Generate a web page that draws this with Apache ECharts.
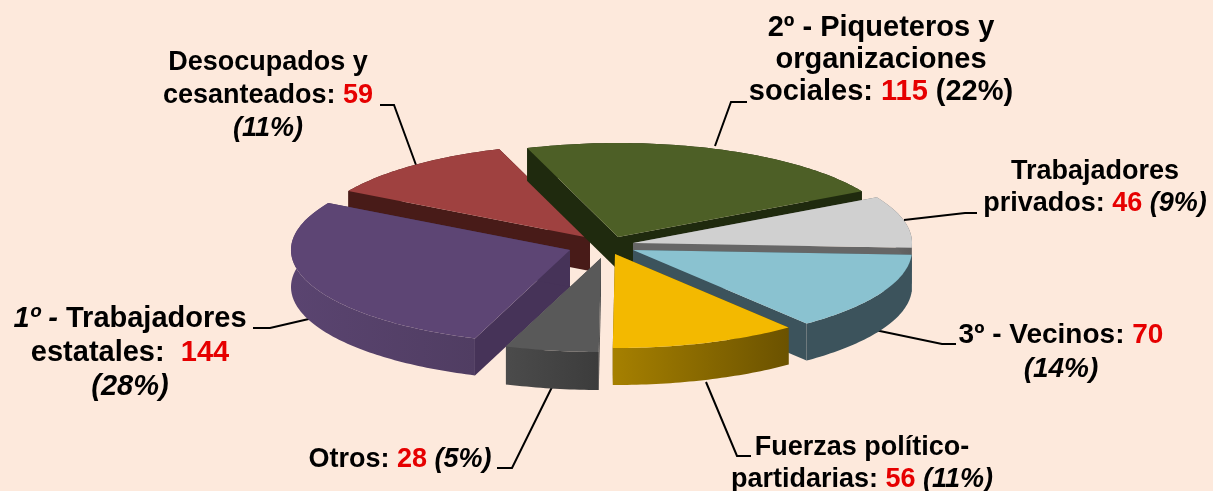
<!DOCTYPE html>
<html>
<head>
<meta charset="utf-8">
<style>
  html,body{margin:0;padding:0;background:#fde9dc;}
  #chart{width:1213px;height:491px;}
</style>
<script src="https://cdn.jsdelivr.net/npm/echarts@6/dist/echarts.min.js"></script>
</head>
<body>
<div id="chart"></div>
<script>
// datos, en el orden de las agujas del reloj
const categories = ['Piqueteros y organizaciones sociales','Trabajadores privados','Vecinos','Fuerzas político-partidarias','Otros','Trabajadores estatales','Desocupados y cesanteados']
const values = [115,46,70,56,28,144,59]
const percents = ['22%','9%','14%','11%','5%','28%','11%']

// colores de cada porcion: tapa, pared recta, pared curva (izq, der)
const topColors = ['#4d5f26','#d0d0d0','#8ac2d0','#f3b900','#595959','#5d4574','#9f4140']
const wallColors = ['#1f2a0e','#666666','#3c535c','#6b5200','#4a4a4a','#463358','#481b18']
const arcColors = [['#1f2a0e','#1f2a0e'],['#6e6e6e','#5e5e5e'],['#3c535c','#3c535c'],['#a68000','#6b5200'],['#4b4b4b','#3c3c3c'],['#5a4470','#503d62'],['#481b18','#481b18']]

// vertice de cada porcion (separacion) y altura
const apex = [[618,237],[633,243],[633,250],[615,254],[601,258],[570,250],[590,238]]
const depth = [33,36,37,37,38,37,33]
const drawOrder = [1,2,3,6,5,4,0]  // indice de pintado por porcion
const radiusX = 279
const radiusY = 94
const startAngle = -19

const total = values.reduce((a,b)=>a+b,0)
function rim(i,deg){
  let r = deg*Math.PI/180
  return [apex[i][0]+radiusX*Math.sin(r), apex[i][1]-radiusY*Math.cos(r)]
}
function down(p,d){ return [p[0],p[1]+d] }

function renderSlice(params,api){
  let i = params.dataIndex
  let before = 0
  for(let k=0;k<i;k++){ before+=values[k] }
  let a0 = startAngle+before/total*360
  let a1 = a0+api.value(0)/total*360
  let arc = []
  for(let a=a0;a<a1;a+=1){ arc.push(rim(i,a)) }
  arc.push(rim(i,a1))
  let d = depth[i]
  let c = apex[i]
  let first = arc[0]
  let last = arc[arc.length-1]
  let z = drawOrder[i]*10
  let poly = (points,fill,z2)=>({type:'polygon',shape:{points:points},style:{fill:fill},z2:z2,silent:true})
  return {
    type:'group',
    children:[
      poly([c,first,down(first,d),down(c,d)],wallColors[i],z),
      poly([c,last,down(last,d),down(c,d)],wallColors[i],z+1),
      poly(arc.concat(arc.map(p=>down(p,d)).reverse()),new echarts.graphic.LinearGradient(0,0,1,0,[
        {offset:0,color:arcColors[i][0]},{offset:1,color:arcColors[i][1]}
      ]),z+2),
      poly([c].concat(arc),topColors[i],z+3)
    ]
  }
}

// textos de las etiquetas
const labelTexts = [
  ['{b|2º - Piqueteros y}','{b|organizaciones}','{b|sociales: }{r|'+values[0]+'}{b| ('+percents[0]+')}'],
  ['{b|Trabajadores}','{b|privados: }{r|'+values[1]+'}{i| ('+percents[1]+')}'],
  ['{b|3º - Vecinos: }{r|'+values[2]+'}','{i|('+percents[2]+')}'],
  ['{b|Fuerzas político-}','{b|partidarias: }{r|'+values[3]+'}{i| ('+percents[3]+')}'],
  ['{b|Otros: }{r|'+values[4]+'}{i| ('+percents[4]+')}'],
  ['{i|1º - }{b|Trabajadores}','{b|estatales:  }{r|'+values[5]+'}','{i|('+percents[5]+')}'],
  ['{b|Desocupados y}','{b|cesanteados: }{r|'+values[6]+'}','{i|('+percents[6]+')}']
]
const labelPos = [[881,12],[1095,156],[1061,318],[862,432],[400,443],[130,302],[268,46]]
const labelSizes = [29,27,28,27,27,29,27]
const labelLineHeights = [32,32,34,32,33,34,33]
const leaderLines = [
  [[747,102],[731,102],[715,146]],
  [[977,213],[965,213],[904,220]],
  [[956,344],[942,344],[875,330]],
  [[751,456],[737,456],[706,382]],
  [[497,468],[512,468],[553,385]],
  [[253,328],[270,328],[313,318]],
  [[380,105],[394,105],[416,165]]
]

function richFor(i){
  let font = {fontFamily:'Liberation Sans',fontSize:labelSizes[i],lineHeight:labelLineHeights[i]}
  return {
    b:Object.assign({fontWeight:'bold',fill:'#000'},font),
    r:Object.assign({fontWeight:'bold',fill:'#e60000'},font),
    i:Object.assign({fontWeight:'bold',fontStyle:'italic',fill:'#000'},font)
  }
}

let graphics = []
leaderLines.forEach(l=>{
  graphics.push({type:'polyline',shape:{points:l},style:{stroke:'#000',lineWidth:2,fill:null},z:1,silent:true})
})
labelTexts.forEach((lines,i)=>{
  graphics.push({
    type:'text',x:labelPos[i][0],y:labelPos[i][1],z:3,silent:true,
    style:{text:lines.join('\n'),align:'center',verticalAlign:'top',rich:richFor(i)}
  })
})

let chart = echarts.init(document.getElementById('chart'))
chart.setOption({
  animation:false,
  backgroundColor:'#fde9dc',
  graphic:graphics,
  series:[{
    type:'custom',
    coordinateSystem:'none',
    z:2,
    renderItem:renderSlice,
    data:values.map((v,i)=>({name:categories[i],value:[v]}))
  }]
})
</script>
</body>
</html>
